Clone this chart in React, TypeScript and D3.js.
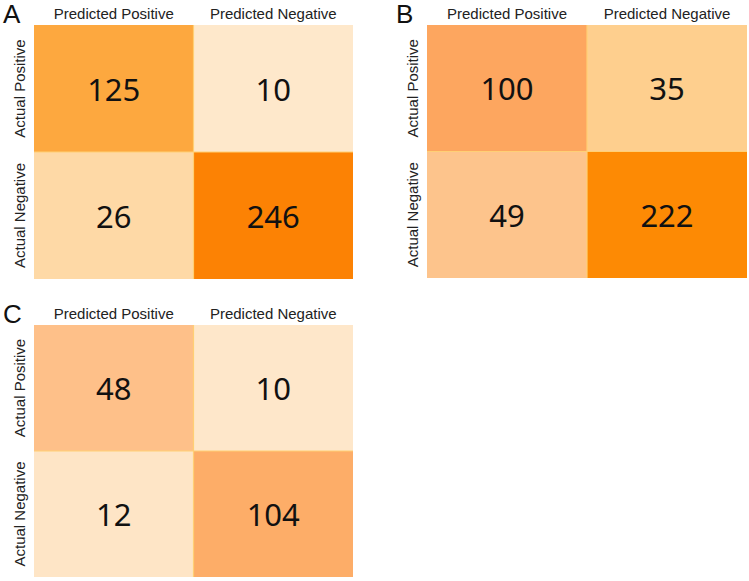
import React, { useEffect, useRef } from 'react';
import * as d3 from 'd3';

// column / row labels
const predictedLabels = ['Predicted Positive', 'Predicted Negative'];
const actualLabels = ['Actual Positive', 'Actual Negative'];
const panelNames = ['A', 'B', 'C'];

// confusion matrix counts, row-major [AP-PP, AP-PN, AN-PP, AN-PN]
const valuesA = [125, 10, 26, 246];
const valuesB = [100, 35, 49, 222];
const valuesC = [48, 10, 12, 104];

// fills, one per cell (style, not data)
const fillsA = ['#fda83f', '#fee8cb', '#fed9a6', '#fc8204'];
const fillsB = ['#fda65f', '#fecf8e', '#fdc48c', '#fd8a04'];
const fillsC = ['#fec089', '#fee7ca', '#fee5c6', '#fdad68'];

const W = 749;
const H = 581;

const panels = [
  { name: panelNames[0], values: valuesA, fills: fillsA, x0: 34, x1: 353, y0: 25, y1: 279 },
  { name: panelNames[1], values: valuesB, fills: fillsB, x0: 427, x1: 747, y0: 25, y1: 278 },
  { name: panelNames[2], values: valuesC, fills: fillsC, x0: 34, x1: 353, y0: 325, y1: 577 },
];

const App: React.FC = () => {
  const svgRef = useRef<SVGSVGElement>(null);

  useEffect(() => {
    document.body.style.margin = '0';
    const svg = d3.select(svgRef.current);
    svg.selectAll('*').remove();

    svg.append('rect').attr('width', W).attr('height', H).attr('fill', '#fff');

    panels.forEach(p => {
      const x = d3.scaleBand<string>().domain(predictedLabels).range([p.x0, p.x1]);
      const y = d3.scaleBand<string>().domain(actualLabels).range([p.y0, p.y1]);
      const g = svg.append('g');

      const cells = p.values.map((v, i) => ({
        v,
        fill: p.fills[i],
        col: predictedLabels[i % 2],
        row: actualLabels[Math.floor(i / 2)],
      }));

      g.selectAll('rect.cell')
        .data(cells)
        .enter()
        .append('rect')
        .attr('class', 'cell')
        .attr('x', d => x(d.col)!)
        .attr('y', d => y(d.row)!)
        .attr('width', x.bandwidth())
        .attr('height', y.bandwidth())
        .attr('fill', d => d.fill);

      // thin light separators between cells
      g.append('line')
        .attr('x1', x(predictedLabels[1])!)
        .attr('x2', x(predictedLabels[1])!)
        .attr('y1', p.y0)
        .attr('y2', p.y1)
        .attr('stroke', '#ffcf75')
        .attr('stroke-width', 1.2);
      g.append('line')
        .attr('x1', p.x0)
        .attr('x2', p.x1)
        .attr('y1', y(actualLabels[1])!)
        .attr('y2', y(actualLabels[1])!)
        .attr('stroke', '#ffcf75')
        .attr('stroke-width', 1.2);

      g.selectAll('text.val')
        .data(cells)
        .enter()
        .append('text')
        .attr('class', 'val')
        .attr('x', d => x(d.col)! + x.bandwidth() / 2)
        .attr('y', d => y(d.row)! + y.bandwidth() / 2 + 12)
        .attr('text-anchor', 'middle')
        .attr('font-family', '"Noto Sans", "Open Sans", sans-serif')
        .attr('font-size', 31)
        .attr('fill', '#111')
        .text(d => d.v);

      // column headers
      g.selectAll('text.col')
        .data(predictedLabels)
        .enter()
        .append('text')
        .attr('class', 'col')
        .attr('x', d => x(d)! + x.bandwidth() / 2)
        .attr('y', p.y0 - 6)
        .attr('text-anchor', 'middle')
        .attr('font-family', '"Liberation Sans", Arial, sans-serif')
        .attr('font-size', 15)
        .attr('fill', '#222')
        .text(d => d);

      // row headers
      g.selectAll('text.row')
        .data(actualLabels)
        .enter()
        .append('text')
        .attr('class', 'row')
        .attr('transform', d => `translate(${p.x0 - 9},${y(d)! + y.bandwidth() / 2}) rotate(-90)`)
        .attr('text-anchor', 'middle')
        .attr('font-family', '"Liberation Sans", Arial, sans-serif')
        .attr('font-size', 15)
        .attr('fill', '#222')
        .text(d => d);

      // panel letter
      g.append('text')
        .attr('x', p.x0 - 31)
        .attr('y', p.y0 - 2)
        .attr('font-family', '"Liberation Sans", Arial, sans-serif')
        .attr('font-size', 26)
        .attr('fill', '#111')
        .text(p.name);
    });
  }, []);

  return <svg ref={svgRef} width={W} height={H} style={{ display: 'block' }} />;
};

export default App;
